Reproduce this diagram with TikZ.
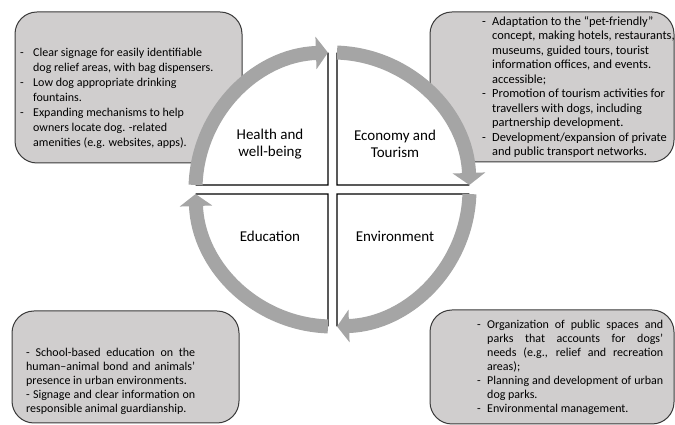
\documentclass[tikz,border=0pt]{standalone}
\usepackage{fontspec}
\setmainfont{Carlito}
\usepackage{tikz}
\usetikzlibrary{
  arrows.meta,
  positioning,
  calc,
}
\definecolor{ringgray}{HTML}{A5A5A5}
\definecolor{notegray}{HTML}{D0CECE}
\definecolor{noteedge}{HTML}{3A3A3A}

% dash bullet with hanging indent (end each item with \par)
\newcommand{\dashitem}[1][10pt]{\hangindent=#1\hangafter=1\makebox[#1][l]{-}}

\tikzset{
  notebox/.style={draw=noteedge, line width=1pt, fill=notegray, rounded corners=22pt, inner sep=0pt},
  notetext/.style={inner sep=0pt, anchor=north west, font={\fontsize{12}{14.5}\selectfont\pretolerance=10000}},
  quadlabel/.style={align=center, font={\fontsize{15}{17.5}\selectfont}},
  cyclearrow/.style={ringgray, line width=14pt, -{Triangle[length=12pt, width=32pt]}},
  quadedge/.style={black, line width=1.2pt},
}

\begin{document}
\begin{tikzpicture}[x=1pt, y=1pt]
  \useasboundingbox (0,0) rectangle (675,425);

  % note boxes
  \node[notebox, minimum width=227pt, minimum height=151pt] (healthbox)  at (128.5,337.5) {};
  \node[notebox, minimum width=244pt, minimum height=150pt] (economybox) at (552,338) {};
  \node[notebox, minimum width=227pt, minimum height=112pt] (educationbox) at (125.5,58) {};
  \node[notebox, minimum width=244pt, minimum height=114pt] (environmentbox) at (552,58) {};

  % quarters and the cycle
  \coordinate (c) at (332.5,235.5);
  \foreach \m in {45,135,225,315} {
    \coordinate (q\m) at ($(c)+(\m:6.4)$);
    \fill[white] (q\m) -- ($(c)+(\m+43.1:137)$) arc[start angle=\m+43.1, end angle=\m-43.1, radius=137] -- cycle;
    \draw[quadedge] ($(c)+(\m+43.1:137)$) -- (q\m) -- ($(c)+(\m-43.1:137)$);
  }
  \foreach \m in {45,135,225,315}
    \draw[cyclearrow] ($(c)+(\m+43.1:137)$) arc[start angle=\m+43.1, end angle=\m-43.1, radius=137];

  \node[quadlabel] (health)      at (270,281) {Health and\\well-being};
  \node[quadlabel] (economy)     at (395,281) {Economy and\\Tourism};
  \node[quadlabel] (education)   at (270,189) {Education};
  \node[quadlabel] (environment) at (395,189) {Environment};

  \node[notetext, text width=200pt, align=flush left, font={\fontsize{12}{15}\selectfont\pretolerance=10000}] (healthtext) at (20,377.5) {%
    \dashitem[13pt]Clear signage for easily identifiable\linebreak dog relief areas, with bag dispensers.\par
    \dashitem[13pt]Low dog appropriate drinking\linebreak fountains.\par
    \dashitem[13pt]Expanding mechanisms to help\linebreak owners locate dog. -related\linebreak amenities (e.g. websites, apps).\par};

  \node[notetext, text width=198pt, align=flush left, font={\fontsize{12.4}{14.5}\selectfont\pretolerance=10000}] (economytext) at (482,409) {%
    \dashitem Adaptation to the ``pet-friendly''\linebreak concept, making hotels, restaurants,\linebreak museums, guided tours, tourist\linebreak information offices, and events.\linebreak accessible;\par
    \dashitem Promotion of tourism activities for\linebreak travellers with dogs, including\linebreak partnership development.\par
    \dashitem Development/expansion of private\linebreak and public transport networks.\par};

  \node[notetext, text width=169pt, align=justify, font={\fontsize{12}{14}\selectfont\pretolerance=10000}] (educationtext) at (26,77.5) {%
    - School-based education on the\linebreak human--animal bond and animals'\linebreak presence in urban environments.\par
    - Signage and clear information on\linebreak responsible animal guardianship.\par};

  \node[notetext, text width=186pt, align=justify, font={\fontsize{12}{14}\selectfont\pretolerance=10000}] (environmenttext) at (477,105.5) {%
    \dashitem Organization of public spaces and\linebreak parks that accounts for dogs'\linebreak needs (e.g., relief and recreation\linebreak areas);\par
    \dashitem Planning and development of urban\linebreak dog parks.\par
    \dashitem Environmental management.\par};
\end{tikzpicture}
\end{document}
